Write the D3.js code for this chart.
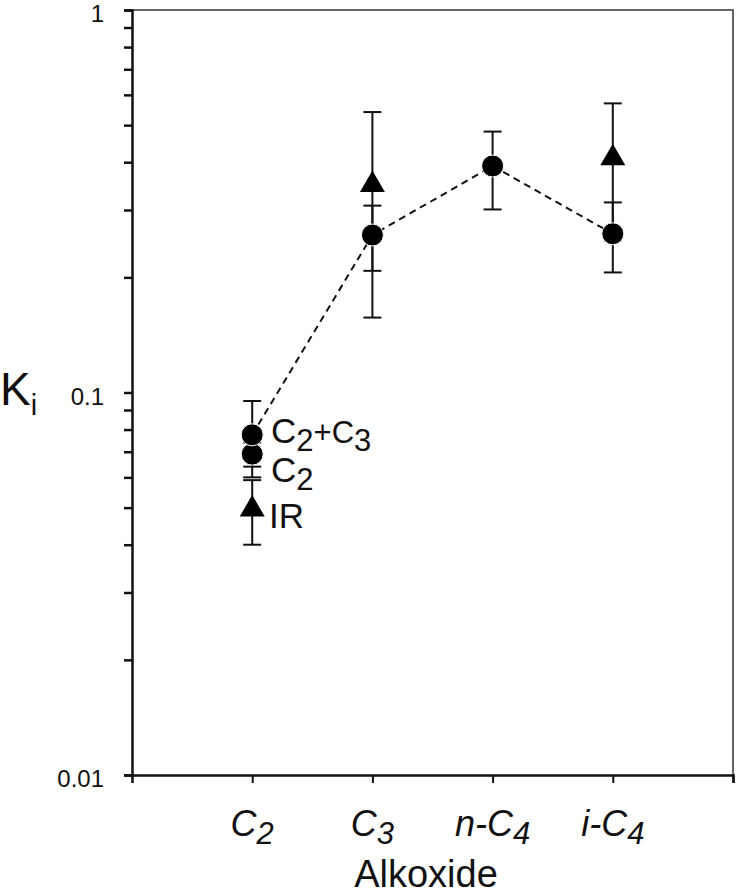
<!DOCTYPE html>
<html>
<head>
<meta charset="utf-8">
<script src="https://cdn.jsdelivr.net/npm/d3@7"></script>
<style>
  body { margin: 0; background: #fff; }
  svg { font-family: "Liberation Sans", Arial, sans-serif; }
</style>
</head>
<body>
<svg width="737" height="894"></svg>
<script>
// categories on the x axis (italic, with subscript)
var tickMain = ["C", "C", "n-C", "i-C"],
    tickSub = ["2", "3", "4", "4"],
    tickPos = [1, 2, 3, 4];

// circles joined by dashed line (C2+C3 fit)
var linePos = [1, 2, 3, 4],
    lineVal = [0.0775, 0.258, 0.391, 0.26],
    lineErr = [0.0175, 0.05, 0.09, 0.054];

// C2 only fit (circle)
var c2Pos = [1],
    c2Val = [0.069],
    c2Err = [0.005];

// IR (triangles)
var irPos = [1, 2, 4],
    irVal = [0.0495, 0.349, 0.41],
    irErr = [0.0095, 0.192, 0.16];

var yTicks = [0.01, 0.1, 1];
var yTickLabels = ["0.01", "0.1", "1"];

var svg = d3.select("svg"),
    pLeft = 132, pRight = 733, pTop = 10, pBottom = 775;

var x = d3.scaleLinear().domain([0, 5]).range([pLeft, pRight]);
var y = d3.scaleLog().domain([0.01, 1]).range([pBottom, pTop]);

// frame top/right
svg.append("path")
    .attr("d", "M" + pLeft + "," + pTop + "H" + pRight + "V" + pBottom)
    .attr("fill", "none")
    .attr("stroke", "#666")
    .attr("stroke-width", 2);

// y axis with minor ticks
var minor = [];
[0.01, 0.1].forEach(function(d) {
  for (var k = 1; k < 10; k++) minor.push(d * k);
});
minor.push(1);

var yAxis = svg.append("g")
    .attr("transform", "translate(" + pLeft + ",0)")
    .call(d3.axisLeft(y).tickValues(minor).tickSize(8).tickFormat(""));
yAxis.select(".domain").attr("stroke", "#111").attr("stroke-width", 2.5);
yAxis.selectAll(".tick line").attr("stroke", "#111").attr("stroke-width", 2.5);

svg.append("g").selectAll("text")
    .data(yTicks)
    .enter().append("text")
      .attr("x", pLeft - 28)
      .attr("y", function(d) { return y(d); })
      .attr("dy", "0.5em")
      .attr("text-anchor", "end")
      .attr("font-size", 24)
      .attr("fill", "#111")
      .text(function(d, i) { return yTickLabels[i]; });

// x axis
var xAxis = svg.append("g")
    .attr("transform", "translate(0," + pBottom + ")")
    .call(d3.axisBottom(x).tickValues([1, 2, 3, 4, 5]).tickSize(8).tickFormat(""));
xAxis.select(".domain").attr("stroke", "#111").attr("stroke-width", 2.5);
xAxis.selectAll(".tick line").attr("stroke", "#111").attr("stroke-width", 2);

// category labels
var xl = svg.append("g").selectAll("text")
    .data(tickPos)
    .enter().append("text")
      .attr("x", function(d) { return x(d); })
      .attr("y", 836)
      .attr("text-anchor", "middle")
      .attr("font-size", 36)
      .attr("font-style", "italic")
      .attr("fill", "#111");
xl.append("tspan").text(function(d, i) { return tickMain[i]; });
xl.append("tspan")
    .attr("dy", 8)
    .attr("font-size", 31)
    .text(function(d, i) { return tickSub[i]; });

svg.append("text")
    .attr("x", 426)
    .attr("y", 887)
    .attr("text-anchor", "middle")
    .attr("font-size", 38)
    .attr("fill", "#111")
    .text("Alkoxide");

var kl = svg.append("text")
    .attr("x", 0)
    .attr("y", 405)
    .attr("font-size", 46)
    .attr("fill", "#111");
kl.append("tspan").text("K");
kl.append("tspan").attr("dy", 10).attr("font-size", 29).text("i");

// error bars
function errBars(pos, val, err) {
  var g = svg.append("g").attr("stroke", "#111").attr("stroke-width", 2);
  pos.forEach(function(p, i) {
    var cx = x(p), hi = y(val[i] + err[i]), lo = y(val[i] - err[i]);
    g.append("line").attr("x1", cx).attr("x2", cx).attr("y1", hi).attr("y2", lo);
    g.append("line").attr("x1", cx - 9).attr("x2", cx + 9).attr("y1", hi).attr("y2", hi);
    g.append("line").attr("x1", cx - 9).attr("x2", cx + 9).attr("y1", lo).attr("y2", lo);
  });
}
errBars(linePos, lineVal, lineErr);
errBars(c2Pos, c2Val, c2Err);
errBars(irPos, irVal, irErr);

// dashed line
var line = d3.line()
    .x(function(d, i) { return x(linePos[i]); })
    .y(function(d) { return y(d); });
svg.append("path")
    .datum(lineVal)
    .attr("d", line)
    .attr("fill", "none")
    .attr("stroke", "#111")
    .attr("stroke-width", 2)
    .attr("stroke-dasharray", "7,5");

// markers
svg.append("g").selectAll("circle")
    .data(c2Val)
    .enter().append("circle")
      .attr("cx", function(d, i) { return x(c2Pos[i]); })
      .attr("cy", function(d) { return y(d); })
      .attr("r", 11)
      .attr("fill", "#000")
      .attr("stroke", "#fff")
      .attr("stroke-width", 1);

svg.append("g").selectAll("circle")
    .data(lineVal)
    .enter().append("circle")
      .attr("cx", function(d, i) { return x(linePos[i]); })
      .attr("cy", function(d) { return y(d); })
      .attr("r", 11)
      .attr("fill", "#000")
      .attr("stroke", "#fff")
      .attr("stroke-width", 1);

svg.append("g").selectAll("path")
    .data(irVal)
    .enter().append("path")
      .attr("d", d3.symbol().type(d3.symbolTriangle).size(270))
      .attr("transform", function(d, i) { return "translate(" + x(irPos[i]) + "," + y(d) + ")"; })
      .attr("fill", "#000");

// point labels at C2
function ptLabel(px, py, parts) {
  var t = svg.append("text").attr("x", px).attr("y", py)
      .attr("font-size", 35).attr("fill", "#111");
  parts.forEach(function(p) {
    t.append("tspan").attr("dy", p[1]).attr("font-size", p[1] ? 31 : 35).text(p[0]);
  });
}
ptLabel(271, 443, [["C", 0], ["2", 8], ["+C", -8], ["3", 8]]);
ptLabel(271, 482, [["C", 0], ["2", 8]]);
ptLabel(269, 528, [["IR", 0]]);
</script>
</body>
</html>
